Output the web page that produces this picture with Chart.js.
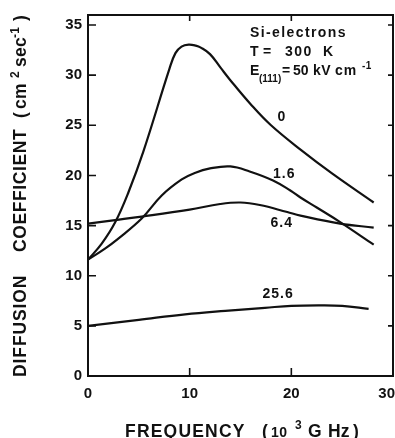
<!DOCTYPE html>
<html>
<head>
<meta charset="utf-8">
<script src="https://cdn.jsdelivr.net/npm/chart.js@4.4.0/dist/chart.umd.min.js"></script>
<style>
  html, body { margin: 0; padding: 0; background: #fff; }
  #wrap { width: 395px; height: 438px; }
</style>
</head>
<body>
<div id="wrap"><canvas id="chart" width="395" height="438"></canvas></div>
<script>
// values (x in 10^3 GHz, y in cm^2/s)
const xTicks = [0, 10, 20, 30];
const yTicks = [0, 5, 10, 15, 20, 25, 30, 35];

const f0 = [0, 1.35, 2.66, 3.97, 5.45, 8.0, 8.6, 9.2, 9.9, 10.6, 11.1, 12.0, 13.0, 14.0, 16.0, 18.0, 21.0, 24.0, 28.1];
const d0 = [11.6, 13.2, 15.3, 18.3, 22.4, 30.6, 32.2, 32.85, 33.05, 32.95, 32.75, 32.1, 30.8, 29.5, 27.1, 25.0, 22.5, 20.2, 17.3];

const f16 = [0, 1.67, 2.98, 5.28, 7.25, 9.22, 10.5, 12.0, 14.0, 15.9, 18.2, 19.9, 20.9, 22.5, 24.8, 28.1];
const d16 = [11.6, 12.7, 13.7, 15.7, 18.0, 19.6, 20.25, 20.7, 20.9, 20.4, 19.5, 18.5, 17.8, 16.8, 15.35, 13.1];

const f64 = [0, 2.66, 5.28, 10.0, 13.0, 15.0, 16.9, 19.6, 20.9, 24.8, 28.1];
const d64 = [15.2, 15.55, 15.9, 16.6, 17.15, 17.3, 17.05, 16.35, 16.0, 15.2, 14.8];

const f256 = [0, 5.0, 9.55, 13.5, 17.4, 20.0, 22.7, 25.0, 27.6];
const d256 = [5.0, 5.6, 6.15, 6.5, 6.8, 7.0, 7.05, 7.0, 6.7];

const curveLabels = ['0', '1.6', '6.4', '25.6'];
const labelX = [19.07, 19.3, 19.06, 18.7];
const labelY = [25.97, 20.23, 15.33, 8.29];

const FONT = '"Liberation Sans", Arial, sans-serif';

function pts(xs, ys) { return xs.map((v, i) => ({ x: v, y: ys[i] })); }

function run(ctx, str, x, y, size, spacing, weight) {
  ctx.font = `${weight || 'bold'} ${size}px ${FONT}`;
  ctx.letterSpacing = (spacing || 0) + 'px';
  ctx.fillText(str, x, y);
  return x + ctx.measureText(str).width;
}

const decor = {
  id: 'decor',
  afterDraw(chart) {
    const { ctx, chartArea: a, scales: { x, y } } = chart;
    ctx.save();
    ctx.strokeStyle = '#111';
    ctx.fillStyle = '#111';

    // frame
    ctx.lineWidth = 2;
    ctx.strokeRect(a.left, a.top, a.right - a.left, a.bottom - a.top);

    // inward ticks
    ctx.lineWidth = 1.6;
    ctx.beginPath();
    yTicks.forEach((v) => {
      const py = y.getPixelForValue(v);
      ctx.moveTo(a.left, py); ctx.lineTo(a.left + 8, py);
      ctx.moveTo(a.right, py); ctx.lineTo(a.right - 5, py);
    });
    xTicks.slice(1, -1).forEach((v) => {
      const px = x.getPixelForValue(v);
      ctx.moveTo(px, a.bottom); ctx.lineTo(px, a.bottom - 8);
      ctx.moveTo(px, a.top); ctx.lineTo(px, a.top + 6);
    });
    ctx.stroke();

    // x tick labels (last one kept inside the canvas)
    ctx.textBaseline = 'alphabetic';
    ctx.font = `bold 15px ${FONT}`;
    ctx.letterSpacing = '0px';
    xTicks.forEach((v) => {
      const s = String(v);
      const w = ctx.measureText(s).width;
      let px = x.getPixelForValue(v) - w / 2;
      px = Math.min(px, chart.width - w);
      ctx.fillText(s, px, a.bottom + 22);
    });

    // curve labels
    ctx.textAlign = 'center';
    curveLabels.forEach((s, i) => {
      ctx.font = `bold 14px ${FONT}`;
      ctx.letterSpacing = '1px';
      ctx.fillText(s, x.getPixelForValue(labelX[i]), y.getPixelForValue(labelY[i]) + 5);
    });
    ctx.textAlign = 'left';

    // annotation block
    run(ctx, 'Si-electrons', 250, 36.5, 14, 1.4);
    run(ctx, 'T', 250, 55.7, 14, 0);
    run(ctx, '=', 263, 55.7, 14, 0);
    run(ctx, '300', 285, 55.7, 14, 1.5);
    run(ctx, 'K', 323, 55.7, 14, 0);
    run(ctx, 'E', 250, 75, 14, 0);
    run(ctx, '(111)', 259, 81.5, 10, 0);
    run(ctx, '=', 282, 75, 14, 0);
    run(ctx, '50', 293, 75, 14, 0);
    run(ctx, 'kV', 313, 75, 14, 0.5);
    run(ctx, 'cm', 335, 75, 14, 1);
    run(ctx, '-1', 362, 69, 10, 0.5);

    // x axis title
    run(ctx, 'FREQUENCY', 125, 436.5, 17.5, 1.2, 'bold');
    run(ctx, '(', 262, 436.5, 17.5, 0, 'bold');
    run(ctx, '10', 271, 436.5, 14, 0.5, 'bold');
    run(ctx, '3', 295, 429, 12, 0, 'bold');
    run(ctx, 'G', 308, 436.5, 17.5, 0, 'bold');
    run(ctx, 'Hz', 328, 436.5, 17.5, 0, 'bold');
    run(ctx, ')', 353, 436.5, 17.5, 0, 'bold');

    // y axis title, rotated, drawn upward from the bottom
    ctx.translate(26, 377);
    ctx.rotate(-Math.PI / 2);
    run(ctx, 'DIFFUSION', 0, 0, 17.5, 0.9, 'bold');
    run(ctx, 'COEFFICIENT', 125, 0, 17.5, 0.6, 'bold');
    run(ctx, '(', 259, 0, 17.5, 0, 'bold');
    run(ctx, 'cm', 268, 0, 17.5, 0.3, 'bold');
    run(ctx, '2', 299, -7, 12, 0, 'bold');
    run(ctx, 'sec', 310, 0, 17.5, 0.3, 'bold');
    run(ctx, '-1', 339, -7, 12, 0.3, 'bold');
    run(ctx, ')', 356, 0, 17.5, 0, 'bold');
    ctx.restore();
  }
};

const lineStyle = {
  borderColor: '#111',
  borderWidth: 2.2,
  pointRadius: 0,
  fill: false,
  tension: 0.4,
};

new Chart(document.getElementById('chart'), {
  type: 'line',
  data: {
    datasets: [
      { label: '0', data: pts(f0, d0), ...lineStyle },
      { label: '1.6', data: pts(f16, d16), ...lineStyle },
      { label: '6.4', data: pts(f64, d64), ...lineStyle },
      { label: '25.6', data: pts(f256, d256), ...lineStyle },
    ],
  },
  options: {
    responsive: false,
    animation: false,
    events: [],
    layout: { padding: { top: 14, right: 2, left: 0, bottom: 0 } },
    plugins: { legend: { display: false }, tooltip: { enabled: false } },
    scales: {
      x: {
        type: 'linear',
        min: 0,
        max: 30,
        grid: { display: false },
        border: { display: false },
        ticks: { display: false },
        afterBuildTicks: (s) => { s.ticks = xTicks.map((v) => ({ value: v })); },
        afterFit: (s) => { s.height = 62; },
      },
      y: {
        type: 'linear',
        min: 0,
        max: 36,
        grid: { display: false, drawTicks: false },
        border: { display: false },
        ticks: {
          color: '#111',
          padding: 6,
          font: { family: FONT, size: 15, weight: 'bold' },
        },
        afterBuildTicks: (s) => { s.ticks = yTicks.map((v) => ({ value: v })); },
        afterFit: (s) => { s.width = 88; },
      },
    },
  },
  plugins: [decor],
});
</script>
</body>
</html>
